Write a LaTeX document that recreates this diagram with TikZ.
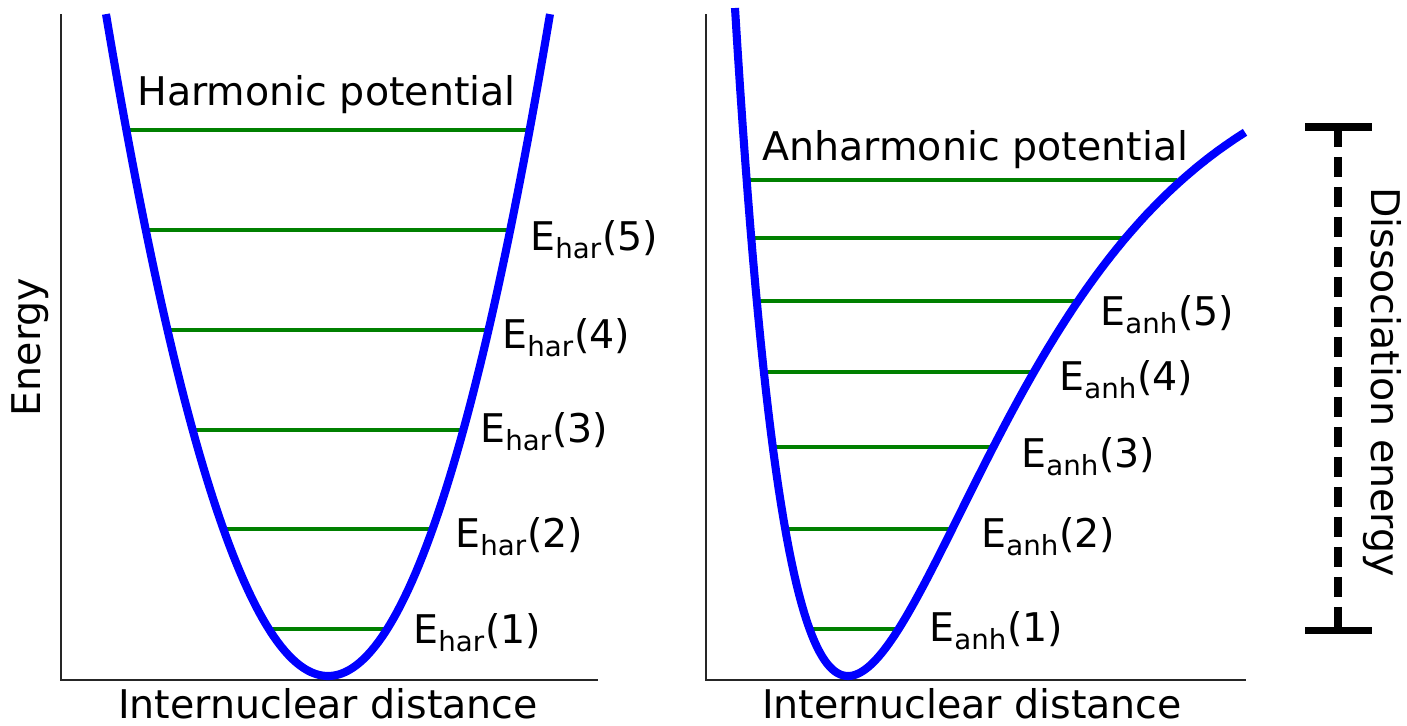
\documentclass[tikz,border=0pt]{standalone}
\usepackage{fontspec}
\setmainfont{DejaVu Sans}
\definecolor{potblue}{RGB}{0, 0, 255}
\definecolor{levelgreen}{RGB}{0, 128, 0}

\begin{document}
\begin{tikzpicture}[
    x=0.02cm, y=-0.02cm,
    axis/.style={line width=1.1pt, black!85},
    pot/.style={line width=4.6pt, potblue},
    level/.style={line width=2.2pt, levelgreen},
    lbl/.style={inner sep=0pt, anchor=base west, font=\fontsize{22.5}{27}\selectfont},
    ttl/.style={inner sep=0pt, font=\fontsize{22.5}{27}\selectfont},
    bar/.style={line width=4pt, black}
  ]
    \useasboundingbox (0,0) rectangle (1407,725);

    \coordinate (harO) at (61,680);
    \coordinate (anhO) at (706,680);
    \draw[axis] (61,14) -- (harO) -- (598,680);
    \draw[axis] (706,14) -- (anhO) -- (1246,680);

    \foreach \ly in {130,230,330,430,529,629} {
      \pgfmathsetmacro\dx{8.629*sqrt(676-\ly)}
      \draw[level] ({328-\dx},\ly) -- ({328+\dx},\ly);
    }
    \foreach \ly in {180,238,301,372,447,529,629} {
      \pgfmathsetmacro\s{sqrt((676-\ly)/650)}
      \pgfmathsetmacro\xl{848-ln(1+\s)/0.0062}
      \pgfmathsetmacro\xr{848-ln(1-\s)/0.0062}
      \draw[level] (\xl,\ly) -- (\xr,\ly);
    }

    \draw[pot] plot[domain=106:550, samples=120] (\x, {676-((\x-328)/8.629)^2});
    \draw[pot] plot[domain=735:1245, samples=200] (\x, {676-650*(1-exp(-0.0062*(\x-848)))^2});

    \node[lbl] (harT) at (137,105) {Harmonic potential};
    \node[lbl] (anhT) at (762,160) {Anharmonic potential};

    \node[lbl] (har1) at (413,643) {E\textsubscript{har}(1)};
    \node[lbl] (har2) at (455,547) {E\textsubscript{har}(2)};
    \node[lbl] (har3) at (480,442) {E\textsubscript{har}(3)};
    \node[lbl] (har4) at (502,348) {E\textsubscript{har}(4)};
    \node[lbl] (har5) at (530,250) {E\textsubscript{har}(5)};

    \node[lbl] (anh1) at (929,641) {E\textsubscript{anh}(1)};
    \node[lbl] (anh2) at (981,547) {E\textsubscript{anh}(2)};
    \node[lbl] (anh3) at (1021,467) {E\textsubscript{anh}(3)};
    \node[lbl] (anh4) at (1059,390) {E\textsubscript{anh}(4)};
    \node[lbl] (anh5) at (1100,325) {E\textsubscript{anh}(5)};

    \node[ttl, rotate=90] (energy) at (30,347) {Energy};
    \node[ttl, anchor=base] (distL) at (328,718) {Internuclear distance};
    \node[ttl, anchor=base] (distR) at (972,718) {Internuclear distance};

    \coordinate (dtop) at (1338,127);
    \coordinate (dbot) at (1338,630);
    \draw[bar] (1305,127) -- (1372,127);
    \draw[bar] (1305,630) -- (1372,630);
    \draw[bar, dash pattern=on 0.4cm off 0.2cm] (dtop) -- (dbot);
    \node[ttl, rotate=-90] (dissoc) at (1382,382) {Dissociation energy};
  \end{tikzpicture}
\end{document}
